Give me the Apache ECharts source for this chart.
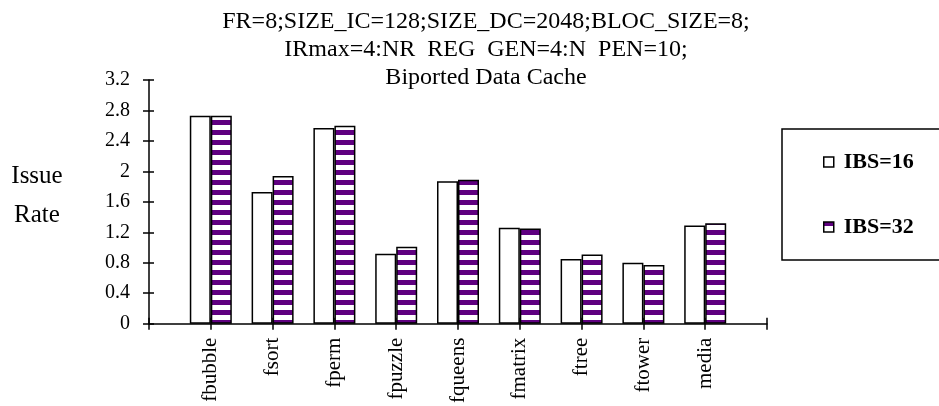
<!DOCTYPE html>
<html lang="en">
<head>
<meta charset="UTF-8">
<title>Biported Data Cache</title>
<style>
  html, body { margin: 0; padding: 0; background: #fff; }
  #chart { width: 939px; height: 406px; }
</style>
</head>
<body>
<div id="chart"></div>
<script src="https://cdn.jsdelivr.net/npm/echarts@6/dist/echarts.min.js"></script>
<script>
  var categories = ['fbubble', 'fsort', 'fperm', 'fpuzzle', 'fqueens', 'fmatrix', 'ftree', 'ftower', 'media'];
  var ibs16 = [2.73, 1.73, 2.57, 0.92, 1.87, 1.26, 0.85, 0.80, 1.29];
  var ibs32 = [2.73, 1.94, 2.60, 1.01, 1.89, 1.25, 0.91, 0.77, 1.32];
  var seriesNames = ['IBS=16', 'IBS=32'];
  var titleLines = [
    'FR=8;SIZE_IC=128;SIZE_DC=2048;BLOC_SIZE=8;',
    'IRmax=4:NR  REG  GEN=4:N  PEN=10;',
    'Biported Data Cache'
  ];

  var purple = '#5f0080';
  var font = 'Liberation Serif';

  // striped fill: purple band on top, white band under it
  var stripe = document.createElement('canvas');
  stripe.width = 4;
  stripe.height = 10;
  var ctx = stripe.getContext('2d');
  ctx.fillStyle = '#ffffff';
  ctx.fillRect(0, 0, 4, 10);
  ctx.fillStyle = purple;
  ctx.fillRect(0, 0, 4, 5);

  // one empty slot on each side, as in the original axis
  var axisData = [''].concat(categories, ['']);
  function pad(arr) {
    return ['-'].concat(arr, ['-']);
  }

  var chart = echarts.init(document.getElementById('chart'));

  var option = {
    animation: false,
    title: {
      text: titleLines.join('\n'),
      left: 486,
      top: 8,
      padding: 0,
      textAlign: 'center',
      textStyle: {
        fontFamily: font,
        fontWeight: 'normal',
        fontSize: 24,
        lineHeight: 28,
        color: '#000'
      }
    },
    legend: {
      orient: 'vertical',
      left: 782,
      top: 129,
      padding: [22, 60, 22, 41],
      itemGap: 43,
      itemWidth: 10,
      itemHeight: 10,
      icon: 'rect',
      borderColor: '#000',
      borderWidth: 1.5,
      textStyle: { fontFamily: font, fontWeight: 'bold', fontSize: 22, color: '#000', padding: [0, 0, 0, 5] },
      data: [
        { name: seriesNames[0], itemStyle: { color: '#fff', borderColor: '#000', borderWidth: 1.5 } },
        { name: seriesNames[1], itemStyle: {
            color: { type: 'linear', x: 0, y: 0, x2: 0, y2: 1, colorStops: [
              { offset: 0, color: purple }, { offset: 0.45, color: purple },
              { offset: 0.45, color: '#fff' }, { offset: 1, color: '#fff' }
            ] },
            borderColor: '#000', borderWidth: 1.5 } }
      ]
    },
    graphic: [{
      type: 'text',
      x: 37,
      y: 157,
      style: {
        text: 'Issue\nRate',
        align: 'center',
        font: '25px "Liberation Serif"',
        lineHeight: 39,
        fill: '#000'
      }
    }],
    grid: { left: 149, right: 172, top: 80, bottom: 82 },
    xAxis: [{
      type: 'category',
      data: axisData,
      boundaryGap: false,
      axisLine: { lineStyle: { color: '#000', width: 1.5 } },
      axisTick: { interval: 0, length: 6, lineStyle: { color: '#000', width: 1.5 } },
      axisLabel: { interval: 0, rotate: 90, margin: 14, fontFamily: font, fontSize: 21, color: '#000' },
      splitLine: { show: false }
    }, {
      type: 'category',
      data: axisData,
      boundaryGap: false,
      position: 'bottom',
      axisLine: { show: false },
      axisTick: { interval: 0, inside: true, length: 6, lineStyle: { color: '#000', width: 1.5 } },
      axisLabel: { show: false },
      splitLine: { show: false }
    }],
    yAxis: [{
      type: 'value',
      min: 0,
      max: 3.2,
      interval: 0.4,
      axisLine: { show: true, lineStyle: { color: '#000', width: 1.5 } },
      axisTick: { show: true, length: 6, lineStyle: { color: '#000', width: 1.5 } },
      axisLabel: { margin: 19, fontFamily: font, fontSize: 20, color: '#000' },
      splitLine: { show: false }
    }, {
      type: 'value',
      min: 0,
      max: 3.2,
      interval: 0.4,
      position: 'left',
      axisLine: { show: false },
      axisTick: { show: true, inside: true, length: 5, lineStyle: { color: '#000', width: 1.5 } },
      axisLabel: { show: false },
      splitLine: { show: false }
    }],
    series: [{
      name: seriesNames[0],
      type: 'bar',
      data: pad(ibs16),
      barWidth: 21,
      barGap: '0%',
      itemStyle: { color: '#fff', borderColor: '#000', borderWidth: 1.5 }
    }, {
      name: seriesNames[1],
      type: 'bar',
      data: pad(ibs32),
      barWidth: 21,
      barGap: '0%',
      itemStyle: { color: { image: stripe, repeat: 'repeat' }, borderColor: '#000', borderWidth: 1.5 }
    }]
  };

  chart.setOption(option);
</script>
</body>
</html>
